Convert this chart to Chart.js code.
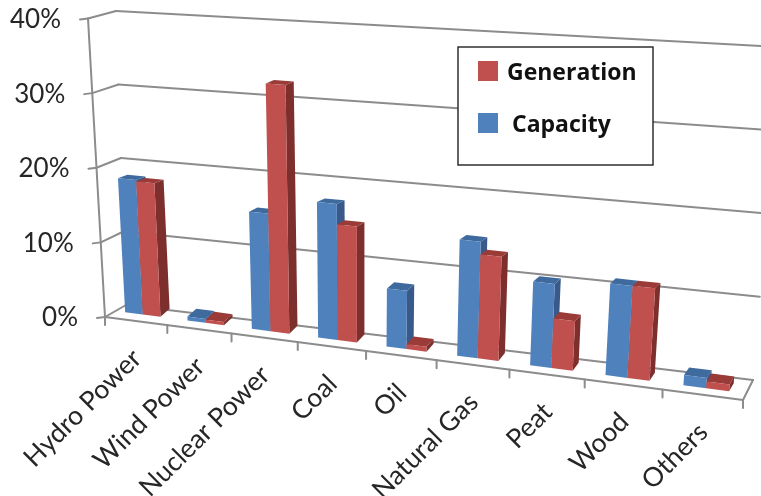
<!DOCTYPE html>
<html><head><meta charset="utf-8">
<style>html,body{margin:0;padding:0;background:#fff}canvas{display:block;filter:blur(.45px)}</style>
<script src="https://cdn.jsdelivr.net/npm/chart.js@4"></script>
</head><body><canvas id="c" width="761" height="496"></canvas>
<script>
const categories = ["Hydro Power","Wind Power","Nuclear Power","Coal","Oil","Natural Gas","Peat","Wood","Others"];
const capacity   = [17.9,0.5,15.2,17.3,7.3,14.4,10.2,11.0,1.2];
const generation = [17.7,0.4,32.0,14.7,0.6,12.8,6.0,11.0,0.8];
const yTicksMax = 40, yStep = 10;

// view geometry of the 3D box, in canvas space
const box = {
  frontL0:[105,317], frontR0:[743,400], frontLT:[88,18.5], frontRT:[770,57],
  backL0:[126,305],  backR0:[753,380],  backLT:[116,11],   backRT:[780,47], k:1.155
};
const lerp=(a,b,t)=>a+(b-a)*t;
const lp=(p,q,t)=>[lerp(p[0],q[0],t),lerp(p[1],q[1],t)];
const persp=s=>s/(s+box.k*(1-s));
function front(f,t){return lp(lp(box.frontL0,box.frontLT,t),lp(box.frontR0,box.frontRT,t),f);}
function back(f,t){return lp(lp(box.backL0,box.backLT,t),lp(box.backR0,box.backRT,t),f);}
function line(ctx,a,b){ctx.beginPath();ctx.moveTo(a[0],a[1]);ctx.lineTo(b[0],b[1]);ctx.stroke();}
function poly(ctx,pts,color){ctx.beginPath();pts.forEach((p,i)=>i?ctx.lineTo(p[0],p[1]):ctx.moveTo(p[0],p[1]));ctx.closePath();ctx.fillStyle=color;ctx.fill();}

// point on the bars' front plane
function barPt(f,t){
  const p=front(f,t);
  return [p[0]+lerp(7,3.5,f), p[1]-6.5];
}
function depth(f,t){
  return [lerp(9.5,4.5,f), -8+4.5*Math.min(t/0.45,1)];
}
const plus=(a,b)=>[a[0]+b[0],a[1]+b[1]];

const box3d = {
  id:'box3d',
  beforeDatasetsDraw(chart){
    const {ctx,chartArea:A,scales:{x,y}}=chart;
    const tOf=px=>(A.bottom-px)/(A.bottom-A.top);
    const sOf=px=>(px-A.left)/(A.right-A.left);
    ctx.save();
    ctx.strokeStyle='#8c8c8c';ctx.lineWidth=2;ctx.lineCap='round';
    // walls
    y.ticks.forEach(tk=>{
      const t=tOf(y.getPixelForValue(tk.value));
      const a=front(0,t),b=back(0,t),c=back(1,t);
      line(ctx,[a[0]-8,a[1]+1],a); line(ctx,a,b); line(ctx,b,c);
    });
    line(ctx,front(0,1),front(0,0));
    line(ctx,front(0,0),front(1,0));
    line(ctx,front(1,0),back(1,0));
    const step=x.getPixelForValue(1)-x.getPixelForValue(0);
    for(let i=0;i<=categories.length;i++){
      const px=x.getPixelForValue(0)+(i-0.5)*step;
      const p=front(persp(sOf(px)),0);
      line(ctx,p,[p[0],p[1]+8]);
    }
    // bars
    const sets=chart.data.datasets;
    categories.forEach((_,i)=>{
      sets.forEach((ds,d)=>{
        const el=chart.getDatasetMeta(d).data[i];
        const fL=persp(sOf(el.x-el.width/2)), fR=persp(sOf(el.x+el.width/2));
        const t=tOf(el.y);
        const BL=barPt(fL,0),BR=barPt(fR,0),TL=barPt(fL,t),TR=barPt(fR,t);
        const dB=depth(fR,0),dT=depth(fR,t),dTL=depth(fL,t);
        poly(ctx,[BR,plus(BR,dB),plus(TR,dT),TR],ds.sideColor);
        poly(ctx,[TL,TR,plus(TR,dT),plus(TL,dTL)],ds.topColor);
        poly(ctx,[BL,BR,TR,TL],ds.backgroundColor);
      });
    });
    ctx.restore();
    return false;
  },
  afterDraw(chart){
    const {ctx,chartArea:A,scales:{x,y}}=chart;
    const tOf=px=>(A.bottom-px)/(A.bottom-A.top);
    const sOf=px=>(px-A.left)/(A.right-A.left);
    ctx.save();
    ctx.fillStyle='#262626';
    // value labels
    ctx.font='26px Lato';ctx.textAlign='right';ctx.textBaseline='middle';
    y.ticks.forEach(tk=>{
      const t=tOf(y.getPixelForValue(tk.value));
      const p=front(0,t);
      ctx.fillText(tk.label,p[0]-27,p[1]+1);
    });
    // category labels
    ctx.font='26.5px Lato';
    categories.forEach((c,i)=>{
      const f=persp(sOf(x.getPixelForValue(i)));
      const p=front(f,0);
      ctx.save();
      ctx.translate(p[0]+1,p[1]+33);
      ctx.rotate(-Math.PI/4);
      ctx.textAlign='right';ctx.textBaseline='middle';
      ctx.fillText(x.getLabelForValue(i),0,0);
      ctx.restore();
    });
    // legend
    const L={x:458,y:47,w:195,h:118};
    ctx.fillStyle='#fff';ctx.fillRect(L.x,L.y,L.w,L.h);
    ctx.strokeStyle='#222';ctx.lineWidth=1.4;ctx.strokeRect(L.x,L.y,L.w,L.h);
    const items=[{d:1,sy:61,tx:507,ty:80},{d:0,sy:113,tx:512,ty:132}];
    ctx.font='bold 23px "Open Sans"';ctx.textAlign='left';ctx.textBaseline='alphabetic';
    items.forEach(it=>{
      const ds=chart.data.datasets[it.d];
      ctx.fillStyle=ds.backgroundColor;ctx.fillRect(478,it.sy,20,20);
      ctx.fillStyle='#111';ctx.fillText(ds.label,it.tx,it.ty);
    });
    ctx.restore();
  }
};

new Chart(document.getElementById('c'),{
  type:'bar',
  data:{labels:categories,datasets:[
    {label:'Capacity',data:capacity,backgroundColor:'#4F81BD',sideColor:'#38598A',topColor:'#3F6A9E',categoryPercentage:0.57,barPercentage:1},
    {label:'Generation',data:generation,backgroundColor:'#C0504D',sideColor:'#7D2F2D',topColor:'#9A3B38',categoryPercentage:0.57,barPercentage:1}
  ]},
  options:{
    responsive:false,animation:false,
    layout:{padding:{left:105,right:18,top:18,bottom:96}},
    plugins:{legend:{display:false},tooltip:{enabled:false},title:{display:false}},
    scales:{
      x:{display:false,ticks:{autoSkip:false}},
      y:{display:false,min:0,max:yTicksMax,ticks:{stepSize:yStep,callback:v=>v+'%'}}
    }
  },
  plugins:[box3d]
});
</script></body></html>
